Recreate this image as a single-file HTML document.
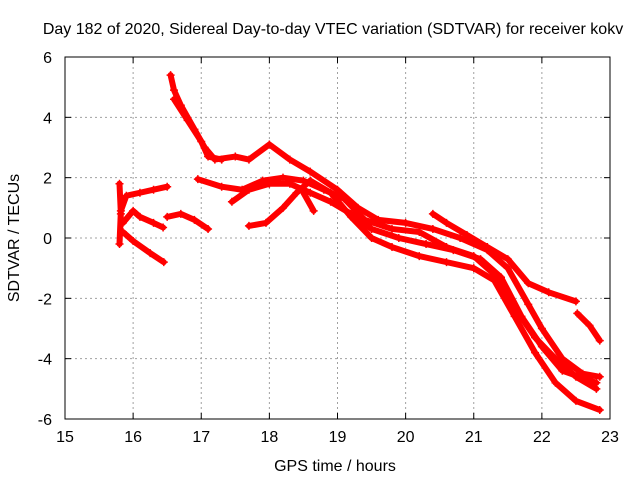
<!DOCTYPE html>
<html><head><meta charset="utf-8"><style>
body{margin:0;background:#fff}
svg text{font-family:"Liberation Sans",sans-serif;font-size:16px;fill:#000}
</style></head><body>
<svg id="chart" width="640" height="480" xmlns="http://www.w3.org/2000/svg">
<rect width="640" height="480" fill="#fff"/>
<g id="grid"></g>
<g id="series"></g>
<rect x="65" y="57" width="545" height="362" fill="none" stroke="#000" stroke-width="1"/>
<g id="ticks"></g>
<text x="333" y="34" text-anchor="middle">Day 182 of 2020, Sidereal Day-to-day VTEC variation (SDTVAR) for receiver kokv</text>
<text x="335" y="471" text-anchor="middle">GPS time / hours</text>
<text transform="translate(19,238) rotate(-90)" text-anchor="middle">SDTVAR / TECUs</text>
</svg>
<script>
const xTicks=[15,16,17,18,19,20,21,22,23];
const yTicks=[-6,-4,-2,0,2,4,6];
const trackA=[[16.55,5.4],[16.6,4.9],[16.7,4.4],[16.9,3.6],[17.05,3.0],[17.2,2.6],[17.5,2.7],[17.7,2.6],[18.0,3.1],[18.3,2.6],[18.6,2.2],[19.0,1.6],[19.3,1.0],[19.6,0.6],[20.0,0.5],[20.4,0.3],[20.8,0.0],[21.2,-0.4],[21.5,-1.0],[21.8,-2.2],[22.0,-3.0],[22.3,-4.0],[22.6,-4.5],[22.85,-4.6]];
const trackA2=[[16.6,4.6],[16.8,3.9],[17.0,3.2],[17.1,2.7],[17.3,2.6]];
const trackB=[[16.95,1.95],[17.3,1.7],[17.6,1.6],[17.9,1.9],[18.2,2.0],[18.5,1.9],[18.8,1.6],[19.1,1.3],[19.4,0.6],[19.8,0.3],[20.2,0.2],[20.6,-0.3],[21.0,-0.6],[21.3,-1.2],[21.6,-2.3],[21.9,-3.3],[22.2,-4.0],[22.5,-4.6],[22.8,-5.0]];
const trackC=[[17.45,1.2],[17.7,1.6],[18.0,1.8],[18.3,1.8],[18.6,1.5],[18.9,1.2],[19.2,0.8],[19.5,0.3],[19.9,0.0],[20.3,-0.2],[20.7,-0.4],[21.1,-0.7],[21.4,-1.3],[21.7,-2.6],[22.0,-3.6],[22.3,-4.4],[22.8,-4.8]];
const trackD=[[17.7,0.4],[17.95,0.5],[18.2,1.0],[18.4,1.5],[18.6,1.9],[18.9,1.5],[19.2,0.7],[19.5,0.0],[19.8,-0.3],[20.2,-0.6],[20.6,-0.8],[21.0,-1.0],[21.3,-1.4],[21.6,-2.6],[21.9,-3.8],[22.2,-4.8],[22.5,-5.4],[22.85,-5.7]];
const trackD2=[[18.5,1.5],[18.65,0.9]];
const trackE=[[20.4,0.8],[20.6,0.5],[20.9,0.1],[21.2,-0.3],[21.5,-0.7],[21.8,-1.5],[22.1,-1.8],[22.5,-2.1]];
const trackF=[[22.52,-2.5],[22.7,-2.9],[22.85,-3.4]];
const trackG=[[15.8,1.8],[15.82,0.8],[15.8,-0.2],[15.82,0.9],[15.9,1.4],[16.1,1.5],[16.3,1.6],[16.5,1.7]];
const trackH=[[15.85,0.5],[16.0,0.9],[16.1,0.7],[16.3,0.5],[16.44,0.35]];
const trackI=[[15.85,0.2],[16.0,-0.1],[16.25,-0.5],[16.45,-0.8]];
const trackJ=[[16.5,0.7],[16.7,0.8],[16.9,0.6],[17.1,0.3]];
const tracks=[trackA,trackA2,trackB,trackC,trackD,trackD2,trackE,trackF,trackG,trackH,trackI,trackJ];

const X0=65,X1=610,Y0=419,Y1=57;
const sx=h=>X0+(h-15)/8*(X1-X0);
const sy=v=>Y0-(v+6)/12*(Y0-Y1);
const NS="http://www.w3.org/2000/svg";
const grid=document.getElementById('grid'),ticks=document.getElementById('ticks'),ser=document.getElementById('series');
function mk(tag,attrs,parent){const e=document.createElementNS(NS,tag);for(const k in attrs)e.setAttribute(k,attrs[k]);parent.appendChild(e);return e;}
xTicks.forEach(t=>{const x=sx(t);
 if(t>15&&t<23){const g=mk('line',{x1:x,x2:x,y1:Y1,y2:Y0,stroke:'#a0a0a0','stroke-dasharray':'2,3'},grid);
 
 }
 mk('line',{x1:x,x2:x,y1:Y0,y2:Y0-6,stroke:'#000'},ticks);mk('line',{x1:x,x2:x,y1:Y1,y2:Y1+6,stroke:'#000'},ticks);
 const l=mk('text',{x:x,y:442,'text-anchor':'middle'},ticks);l.textContent=t;
 
 });
yTicks.forEach(t=>{const y=sy(t);
 if(t>-6&&t<6){const g=mk('line',{x1:X0,x2:X1,y1:y,y2:y,stroke:'#a0a0a0','stroke-dasharray':'2,3'},grid);
 
 }
 mk('line',{x1:X0,x2:X0+6,y1:y,y2:y,stroke:'#000'},ticks);mk('line',{x1:X1,x2:X1-6,y1:y,y2:y,stroke:'#000'},ticks);
 const l=mk('text',{x:52,y:y+6,'text-anchor':'end'},ticks);l.textContent=t;
 
 });
tracks.forEach((tr,i)=>{
 const p=mk('polyline',{points:tr.map(d=>sx(d[0])+','+sy(d[1])).join(' '),fill:'none',stroke:'#f00','stroke-width':6,'stroke-linejoin':'round','stroke-linecap':'round'},ser);
 
 
 tr.forEach(d=>{const x=sx(d[0]),y=sy(d[1]);
  const m=mk('path',{d:`M${x-4},${y}H${x+4}M${x},${y-4}V${y+4}`,stroke:'#f00','stroke-width':1.5},ser);
  
  });
});
</script>
</body></html>
